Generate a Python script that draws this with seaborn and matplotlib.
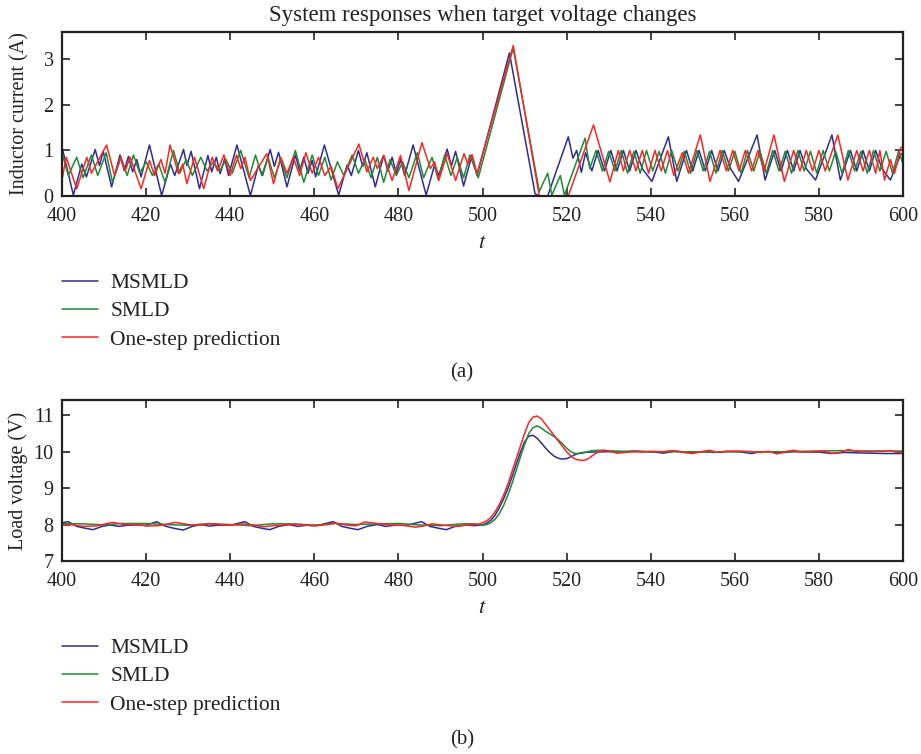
import matplotlib
matplotlib.use("Agg")
import matplotlib.pyplot as plt
import seaborn as sns

# -------------------------------------------------------------------
# Data (vertices of each trace)
# -------------------------------------------------------------------

# (a) inductor current, MSMLD
t_cur_msmld = [400, 402.7, 404.7, 405.8, 407.9, 408.9, 409.8, 411.8, 413.8, 414.8, 415.8, 416.8,
               417.8, 418.8, 420.8, 423.7, 425.8, 426.8, 428.9, 429.7, 430.7, 432.7, 434.7, 435.6,
               436.7, 437.6, 438.7, 439.6, 441.6, 444.8, 446.7, 447.7, 449.5, 450.5, 451.5, 453.5,
               455.5, 456.5, 457.5, 458.5, 459.5, 460.3, 462.4, 465.8, 467.8, 468.8, 470.5, 471.5,
               472.5, 474.5, 476.5, 477.5, 478.5, 479.5, 480.5, 481.5, 483.5, 486.6, 488.6, 489.6,
               491.6, 492.6, 493.6, 495.5, 497.5, 498.7, 506.4, 512.5, 513.5, 515.5, 520.4, 521.5,
               522.4, 523.5, 524.5, 526, 527.5, 529, 530.5, 532, 533.5, 535, 536.5, 538, 540.3,
               544.2, 546.2, 548.5, 550, 551.5, 553, 554.5, 556, 557.5, 559, 560.9, 565.3, 567.2,
               569.5, 571, 572.5, 574, 575.5, 577, 579.2, 583.1, 585.1, 587.5, 589, 590.5, 592,
               593.5, 595, 597, 599.4, 600]
i_msmld = [1.08, 0.02, 0.70, 0.42, 1.02, 0.67, 0.98, 0.20, 0.90, 0.56, 0.87, 0.53,
           0.80, 0.42, 1.12, 0.01, 0.70, 0.45, 1.02, 0.67, 0.98, 0.16, 0.89, 0.53,
           0.85, 0.49, 0.82, 0.45, 1.12, 0.01, 0.67, 0.45, 1.02, 0.65, 0.96, 0.20,
           0.90, 0.55, 0.85, 0.50, 0.78, 0.42, 1.12, 0.02, 0.68, 0.45, 1.00, 0.65,
           0.95, 0.20, 0.89, 0.55, 0.85, 0.50, 0.80, 0.45, 1.12, 0.02, 0.68, 0.45,
           1.03, 0.66, 0.98, 0.22, 0.90, 0.45, 3.14, 0.05, 0.0, 0.0, 1.30, 0.83,
           1.00, 0.52, 0.95, 0.55, 1.00, 0.55, 1.00, 0.55, 1.00, 0.55, 1.00, 0.60, 0.32,
           1.30, 0.32, 1.00, 0.55, 1.00, 0.55, 1.00, 0.55, 1.00, 0.60, 0.32, 1.34, 0.35,
           1.00, 0.55, 1.00, 0.55, 1.00, 0.60, 0.35, 1.34, 0.35, 1.00, 0.55, 1.00, 0.55,
           1.00, 0.60, 0.35, 0.90, 0.95]

# (a) inductor current, SMLD
t_cur_smld = [400, 401.5, 403.5, 405, 407, 408.5, 410.5, 412, 414, 415.5, 417, 418.5, 420, 421.5,
              423, 424.5, 426.5, 428, 429.5, 431, 433, 434.5, 436, 437.5, 439, 440.5, 442.5,
              444.5, 446, 447.5, 449, 450.5, 452, 453.5, 455.5, 457.5, 459.5, 461, 462.5, 464,
              465.5, 467, 469, 470.5, 472, 473.5, 475, 476.5, 478, 479.5, 481, 482.5, 484.5,
              486, 488, 489.5, 491, 492.5, 494, 495.5, 497, 499, 507.3, 513.5, 515.5, 516.5,
              518.5, 519.5, 524.4, 525.5, 527, 528.5, 530, 531.5, 533, 534.5, 536, 537.5, 539,
              540.5, 542, 543.5, 545, 546.5, 548, 549.5, 551, 552.5, 554, 555.5, 557, 558.5,
              560, 561.5, 563, 564.5, 566, 567.5, 569, 570.5, 572, 573.5, 575, 576.5, 578,
              579.5, 581, 582.5, 584, 585.5, 587, 588.5, 590, 591.5, 593, 594.5, 596, 597.5,
              599, 600]
i_smld = [0.95, 0.45, 0.85, 0.40, 0.90, 0.45, 0.95, 0.30, 0.85, 0.45, 0.90, 0.50, 0.75, 0.45,
          0.70, 0.30, 1.00, 0.50, 0.80, 0.45, 0.85, 0.55, 0.75, 0.55, 0.80, 0.50, 1.00,
          0.40, 0.90, 0.45, 0.85, 0.40, 0.80, 0.40, 1.00, 0.30, 0.90, 0.45, 0.85, 0.35,
          0.75, 0.45, 0.90, 0.50, 0.80, 0.40, 0.85, 0.30, 0.80, 0.45, 0.75, 0.40, 0.95,
          0.40, 0.85, 0.35, 0.90, 0.45, 0.85, 0.40, 0.90, 0.40, 3.25, 0.10, 0.50, 0.02,
          0.45, 0.02, 1.27, 0.60, 1.00, 0.55, 0.98, 0.55, 1.00, 0.50, 0.98, 0.50, 1.00,
          0.55, 0.98, 0.50, 1.00, 0.55, 0.98, 0.50, 1.00, 0.55, 0.98, 0.50, 1.00, 0.55,
          0.98, 0.50, 1.00, 0.55, 0.98, 0.50, 1.00, 0.55, 0.98, 0.50, 1.00, 0.55, 0.98,
          0.50, 1.00, 0.55, 0.98, 0.50, 1.00, 0.55, 0.98, 0.50, 1.00, 0.55, 0.98, 0.50,
          1.00, 0.70]

# (a) inductor current, one-step prediction
t_cur_osp = [400, 401, 403.5, 405.9, 407, 410.6, 412.5, 414, 415, 416.2, 418.8, 420.8, 422,
             423.5, 424.5, 425.7, 427.7, 428.7, 429.7, 431.5, 433.7, 435.7, 437, 438.5, 440,
             441.5, 442.5, 443.5, 444.8, 448.7, 450.3, 452, 453.5, 455, 456.5, 458, 459.5, 461,
             462.5, 464, 465.6, 470.6, 472.5, 474, 475, 476.5, 478.5, 480.5, 482.5, 485.6,
             487.6, 488.6, 489.6, 491.6, 493.6, 495.6, 496.5, 497.5, 498.7, 507.3, 513.5,
             520.4, 526.4, 530.3, 532.3, 533.5, 535, 536.5, 538, 539.5, 541, 542.5, 544,
             545.5, 547.5, 549, 551.8, 554.1, 556.5, 558, 559.5, 561, 562.5, 564, 565.5, 567,
             569.3, 571.8, 574, 575.5, 577, 578.5, 580, 581.5, 584.5, 586.9, 589, 590.5, 592,
             593.5, 594.5, 595.6, 597, 598, 599.4, 600]
i_osp = [0.35, 0.85, 0.16, 0.85, 0.50, 1.12, 0.45, 0.85, 0.55, 0.85, 0.16, 0.78, 0.45,
         0.80, 0.50, 1.12, 0.49, 0.70, 0.27, 0.85, 0.16, 0.85, 0.55, 0.90, 0.45,
         0.90, 0.60, 0.85, 0.34, 0.93, 0.27, 0.85, 0.50, 0.85, 0.45, 0.95, 0.50, 0.85,
         0.45, 0.65, 0.16, 1.14, 0.53, 0.85, 0.60, 0.89, 0.34, 0.89, 0.12, 1.17,
         0.60, 0.75, 0.34, 0.93, 0.34, 0.93, 0.70, 0.90, 0.49, 3.30, 0.0,
         0.0, 1.56, 0.31, 1.00, 0.55, 1.00, 0.55, 1.00, 0.50, 1.00, 0.55, 1.00,
         0.45, 0.95, 0.50, 1.34, 0.32, 1.00, 0.55, 1.00, 0.55, 1.00, 0.55, 1.00, 0.55,
         1.34, 0.32, 1.00, 0.55, 1.00, 0.55, 1.00, 0.55, 1.34, 0.35, 1.00, 0.55, 1.00,
         0.50, 1.00, 0.35, 0.80, 0.50, 1.05, 1.10]

# (b) load voltage, MSMLD
t_v_msmld = [400, 401.5, 403.5, 405.5, 407.4, 409.5, 411.5, 413.5, 415.5, 418, 420, 422.5, 424.5,
             426.5, 428.8, 431, 433, 435, 437, 440, 443.5, 445.5, 447.5, 449.4, 451.5, 454, 456,
             458, 461, 464.5, 466.5, 468.5, 470.4, 472.5, 475, 477, 479, 482, 485.5, 487.5,
             489.5, 491.4, 493.5, 496, 498, 500, 501, 502, 503, 504, 505, 506, 507, 508, 509,
             510, 511, 512, 513, 514, 515, 516, 517, 518, 519, 520, 521, 522, 523, 524, 526,
             530, 533, 536, 538, 541, 543, 546, 549, 552, 555, 558, 561, 564, 566, 568, 571,
             574, 577, 580, 583, 586, 589, 592, 596, 600]
v_msmld = [8.05, 8.08, 7.95, 7.90, 7.86, 7.95, 7.99, 7.95, 7.98, 7.99, 7.98, 8.08, 7.96,
           7.90, 7.85, 7.95, 8.00, 7.96, 7.98, 7.98, 8.08, 7.95, 7.90, 7.86, 7.95, 8.00, 7.95,
           7.98, 7.98, 8.08, 7.95, 7.90, 7.86, 7.95, 8.00, 7.95, 7.98, 7.98, 8.08, 7.95,
           7.90, 7.86, 7.95, 7.99, 7.97, 7.99, 8.04, 8.12, 8.26, 8.46, 8.70, 8.98, 9.30, 9.65, 9.98,
           10.27, 10.43, 10.45, 10.37, 10.24, 10.10, 9.98, 9.88, 9.82, 9.80, 9.81, 9.86, 9.92, 9.96, 9.98, 9.99,
           10.00, 9.99, 10.02, 10.01, 9.99, 9.96, 10.02, 9.98, 10.00, 9.98, 10.01, 10.00, 9.95, 10.00, 10.00, 9.97,
           10.00, 9.99, 9.99, 9.95, 9.98, 9.97, 9.96, 9.95, 9.95]

# (b) load voltage, SMLD
t_v_smld = [400, 405, 410, 414, 420, 425, 430, 435, 440, 445, 450, 455, 460, 465, 470, 475, 480,
            485, 490, 495, 498, 500, 501, 502, 503, 504, 505, 506, 507, 508, 509, 510, 511, 512,
            513, 514, 515, 516, 517, 518, 519, 520, 521, 522, 523, 524, 525, 526, 528, 531,
            535, 540, 545, 550, 555, 560, 565, 570, 575, 580, 585, 590, 595, 600]
v_smld = [8.03, 8.02, 7.99, 8.03, 8.03, 8.00, 7.98, 8.03, 8.00, 7.97, 8.02, 8.02, 7.98, 8.03,
          8.00, 8.02, 8.03, 7.99, 7.97, 8.02, 8.02, 7.98, 8.00, 8.05, 8.15, 8.30, 8.52, 8.80,
          9.12, 9.48, 9.85, 10.20, 10.50, 10.66, 10.71, 10.65, 10.56, 10.49, 10.42, 10.33,
          10.22, 10.10, 10.00, 9.95, 9.95, 9.97, 10.00, 10.03, 10.04, 10.02, 10.01, 10.00,
          10.00, 10.00, 9.99, 10.00, 10.00, 10.00, 10.01, 10.02, 10.03, 10.02, 10.02, 10.02]

# (b) load voltage, one-step prediction
t_v_osp = [400, 402, 405, 408, 412, 415, 418, 420, 423, 427, 430, 433, 435, 438, 441, 443, 446,
           448, 451, 454, 457, 460, 463, 465, 468, 470, 472, 475, 478, 481, 484, 486, 488, 491,
           494, 497, 499, 500, 501, 502, 503, 504, 505, 506, 507, 508, 509, 510, 511, 512, 513,
           514, 515, 516, 517, 518, 519, 520, 521, 522, 523, 524, 525, 526, 527, 528, 529,
           530, 532, 534, 536, 538, 540, 543, 545, 547, 550, 552, 554, 556, 558, 561, 564,
           566, 568, 570, 572, 574, 576, 578, 581, 583, 585, 587, 589, 592, 595, 597, 599, 600]
v_osp = [7.98, 8.00, 7.95, 7.96, 8.06, 8.00, 8.00, 7.96, 7.97, 8.06, 8.00, 7.98, 8.02, 7.99,
         7.99, 8.02, 7.98, 7.94, 7.98, 8.00, 8.00, 7.96, 8.00, 8.04, 7.98, 7.97, 8.07, 8.03,
         7.99, 7.98, 7.93, 7.96, 8.02, 7.98, 7.95, 8.00, 8.01, 8.05, 8.10, 8.20, 8.35, 8.55,
         8.80, 9.10, 9.45, 9.80, 10.15, 10.50, 10.80, 10.95, 10.98, 10.90, 10.75, 10.60,
         10.45, 10.30, 10.15, 10.00, 9.88, 9.80, 9.77, 9.76, 9.80, 9.88, 9.96, 10.02, 10.04,
         10.02, 9.96, 9.98, 10.00, 9.99, 10.01, 10.00, 10.03, 9.99, 9.95, 10.00, 10.04, 9.98,
         10.01, 10.02, 10.00, 9.98, 10.01, 9.94, 10.00, 10.04, 9.99, 10.00, 10.02, 9.96, 9.98,
         10.06, 10.01, 10.00, 10.01, 10.02, 9.98, 9.98]

series_names = ["MSMLD", "SMLD", "One-step prediction"]
colors = ["#2e2c96", "#1e8a32", "#ff2424"]

x_ticks = list(range(400, 601, 20))
cur_ticks = [0, 1, 2, 3]
volt_ticks = [7, 8, 9, 10, 11]

# -------------------------------------------------------------------
# Figure
# -------------------------------------------------------------------

sns.set_theme(style="ticks")
plt.rcParams["font.family"] = ["Liberation Serif", "DejaVu Serif"]
plt.rcParams["mathtext.fontset"] = "stix"

W, H = 921, 754
fig = plt.figure(figsize=(W / 100, H / 100), dpi=100)
ax1 = fig.add_axes([62 / W, 1 - 196 / H, 841 / W, 164 / H])
ax2 = fig.add_axes([62 / W, 1 - 561 / H, 841 / W, 161 / H])

cur = [(t_cur_msmld, i_msmld), (t_cur_smld, i_smld), (t_cur_osp, i_osp)]
volt = [(t_v_msmld, v_msmld), (t_v_smld, v_smld), (t_v_osp, v_osp)]

for (tx, ty), name, c in zip(cur, series_names, colors):
    sns.lineplot(x=tx, y=ty, ax=ax1, color=c, linewidth=1.1, label=name,
                 estimator=None, sort=False)
for (tx, ty), name, c in zip(volt, series_names, colors):
    sns.lineplot(x=tx, y=ty, ax=ax2, color=c, linewidth=1.1, label=name,
                 estimator=None, sort=False)


def style_axes(ax, yticks, ylim, ylabel, ylabel_x):
    ax.set_xlim(400, 600)
    ax.set_ylim(*ylim)
    ax.set_xticks(x_ticks)
    ax.set_yticks(yticks)
    ax.tick_params(direction="in", length=6, width=1.2, labelsize=14.5,
                   top=True, right=True, colors="#222222", labelcolor="#222222")
    ax.tick_params(axis="x", pad=8)
    ax.tick_params(axis="y", pad=6)
    for s in ax.spines.values():
        s.set_linewidth(1.6)
        s.set_color("#222222")
    ax.set_xlabel("$t$", fontsize=16, labelpad=6, color="#222222")
    ax.set_ylabel(ylabel, fontsize=14.5, color="#222222")
    ax.yaxis.set_label_coords(ylabel_x, 0.5)
    ax.get_legend().remove()


style_axes(ax1, cur_ticks, (0, 3.6), "Inductor current (A)", (29 - 62) / 841)
style_axes(ax2, volt_ticks, (7, 11.42), "Load voltage (V)", (28 - 62) / 841)
ax1.set_title("System responses when target voltage changes", fontsize=16.5, pad=8,
              color="#222222")

for ax, ytop in [(ax1, 1 - 273 / H), (ax2, 1 - 638 / H)]:
    h, l = ax.get_legend_handles_labels()
    fig.legend(h, l, loc="upper left", bbox_to_anchor=(62 / W, ytop),
               bbox_transform=fig.transFigure, frameon=False, fontsize=15.5,
               handlelength=1.65, handletextpad=0.6, labelspacing=0.38,
               borderpad=0, borderaxespad=0, labelcolor="#222222")

fig.text(462 / W, 1 - 373 / H, "(a)", ha="center", va="center", fontsize=15, color="#222222")
fig.text(462 / W, 1 - 740 / H, "(b)", ha="center", va="center", fontsize=15, color="#222222")

fig.savefig("out.png", dpi=100)
